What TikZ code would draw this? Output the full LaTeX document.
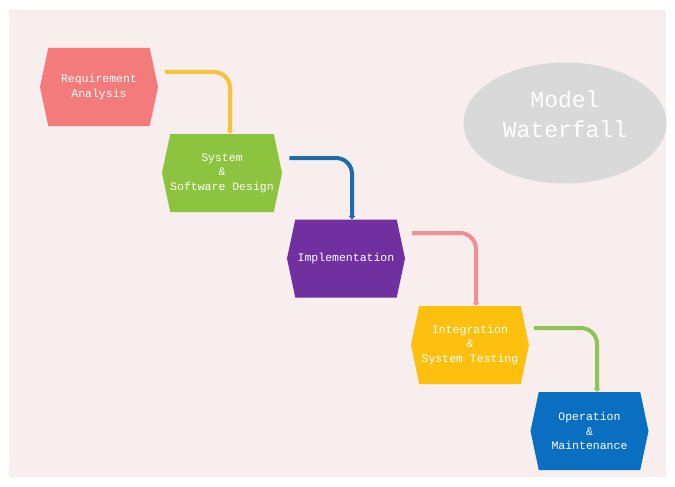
\documentclass[tikz,border=0pt]{standalone}
\usepackage{fontspec}
\setmonofont{Liberation Mono}
\usetikzlibrary{shapes.symbols,shapes.geometric,arrows.meta}
\definecolor{bgc}{HTML}{F8EEED}
\definecolor{cpink}{HTML}{F47B7B}
\definecolor{cgreen}{HTML}{8CC43F}
\definecolor{cpurple}{HTML}{7030A0}
\definecolor{cyellow}{HTML}{FEC00F}
\definecolor{cblue}{HTML}{0A6FC0}
\definecolor{cgray}{HTML}{D9D9D9}
\definecolor{lyellow}{HTML}{F6C33A}
\definecolor{lblue}{HTML}{1E6DAA}
\definecolor{lpink}{HTML}{EF8F93}
\definecolor{lgreen}{HTML}{8DC454}
\tikzset{
  hexbox/.style={shape=signal, signal to=east and west,
    signal pointer angle=156, minimum width=118pt, minimum height=78pt,
    inner sep=0pt, text=white, align=center,
    font=\ttfamily\fontsize{11.5}{14.5}\selectfont},
  flow/.style={line width=4pt, rounded corners=16pt,
    -{Triangle[length=3.5pt,width=7pt]}}
}
\begin{document}
\begin{tikzpicture}[x=1pt,y=-1pt]
\useasboundingbox (0,0) rectangle (675,487);
\fill[white] (0,0) rectangle (675,487);
\fill[bgc] (9,10) rectangle (666,477);

\node[hexbox, fill=cpink] (req) at (99,87) {Requirement\\Analysis};
\node[hexbox, fill=cgreen] (des) at (222,173) {System\\\&\\Software Design};
\node[hexbox, fill=cpurple] (imp) at (346,258.5) {Implementation};
\node[hexbox, fill=cyellow] (int) at (470,345) {Integration\\\&\\System Testing};
\node[hexbox, fill=cblue] (ops) at (589.5,431) {Operation\\\&\\Maintenance};

\node[ellipse, fill=cgray, minimum width=203pt, minimum height=121pt, inner sep=0pt]
  (title) at (565,123) {};
\node[text=white, align=center, font=\ttfamily\fontsize{23}{30}\selectfont]
  (titletext) at ([yshift=9pt]title.center) {Model\\Waterfall};

\coordinate (c1) at (230,72);
\coordinate (c2) at (352,158);
\coordinate (c3) at (476,233);
\coordinate (c4) at (597,328);

\draw[flow, lyellow] ([xshift=7pt]req.east |- c1) -- (c1) -- (c1 |- des.north);
\draw[flow, lblue] ([xshift=7pt]des.east |- c2) -- (c2) -- (c2 |- imp.north);
\draw[flow, lpink] ([xshift=7pt]imp.east |- c3) -- (c3) -- (c3 |- int.north);
\draw[flow, lgreen] ([xshift=5pt]int.east |- c4) -- (c4) -- (c4 |- ops.north);
\end{tikzpicture}
\end{document}
